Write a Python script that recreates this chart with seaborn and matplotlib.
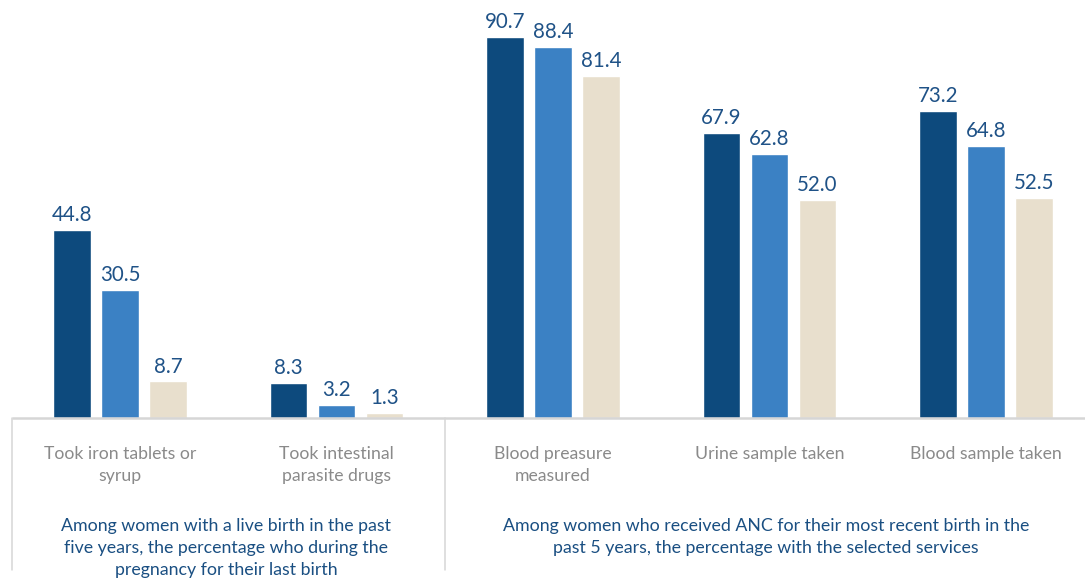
import matplotlib
matplotlib.use("Agg")
import matplotlib.pyplot as plt
import seaborn as sns
import pandas as pd

# Indicator categories (x axis) and the three compared series
categories = [
    "Took iron tablets or\nsyrup",
    "Took intestinal\nparasite drugs",
    "Blood preasure\nmeasured",
    "Urine sample taken",
    "Blood sample taken",
]
series_names = ["Series 1", "Series 2", "Series 3"]
series_1 = [44.8, 8.3, 90.7, 67.9, 73.2]
series_2 = [30.5, 3.2, 88.4, 62.8, 64.8]
series_3 = [8.7, 1.3, 81.4, 52.0, 52.5]

group_labels = [
    "Among women with a live birth in the past\nfive years, the percentage who during the\npregnancy for their last birth",
    "Among women who received ANC for their most recent birth in the\npast 5 years, the percentage with the selected services",
]

palette = ["#0d4a7d", "#3b81c4", "#e8dfcd"]
value_color = "#1f5287"
label_gray = "#8a8a8a"
group_color = "#1a4f82"
rule_gray = "#d6d6d6"

rows = []
for name, vals in zip(series_names, [series_1, series_2, series_3]):
    for cat, v in zip(categories, vals):
        rows.append({"category": cat, "series": name, "value": v})
df = pd.DataFrame(rows)

sns.set_theme(style="white")
plt.rcParams["font.family"] = ["Lato", "DejaVu Sans"]

W, H = 1085, 578
fig = plt.figure(figsize=(W / 100, H / 100), dpi=100)
base_px = 418
ax = fig.add_axes([0, (H - base_px) / H, 1, base_px / H])

sns.barplot(
    data=df, x="category", y="value", hue="series", order=categories,
    hue_order=series_names, palette=palette, width=0.665, gap=0.21,
    saturation=1, legend=False, ax=ax,
)

px_per_cat = 216.5
ax.set_xlim(-120 / px_per_cat, 4 + 99 / px_per_cat)
ax.set_ylim(0, base_px / 4.2)

for cont in ax.containers:
    ax.bar_label(cont, fmt="%.1f", padding=3.5, color=value_color, fontsize=14.8)

for s in ax.spines.values():
    s.set_visible(False)
ax.set_yticks([])
ax.set_xlabel("")
ax.set_ylabel("")
ax.tick_params(axis="x", length=0, pad=20.5, labelsize=12.7, labelcolor=label_gray)
ax.set_xticks(range(len(categories)))
ax.set_xticklabels(categories, linespacing=1.42)

# baseline rule and the two group frames
xt = ax.get_xaxis_transform()
ax.plot([-0.5, ax.get_xlim()[1]], [0, 0], transform=xt, color=rule_gray,
        lw=1.8, clip_on=False, solid_capstyle="butt")
bottom = -(570 - base_px) / base_px
for xv in (-0.5, 1.5):
    ax.plot([xv, xv], [0, bottom], transform=xt, color=rule_gray,
            lw=1.1, clip_on=False)

# group captions
for xc, text in zip([226, 766], group_labels):
    fig.text(xc / W, 1 - 518 / H, text, ha="center", va="top",
             color=group_color, fontsize=12.8, linespacing=1.47)

fig.savefig("out.png", dpi=100)
